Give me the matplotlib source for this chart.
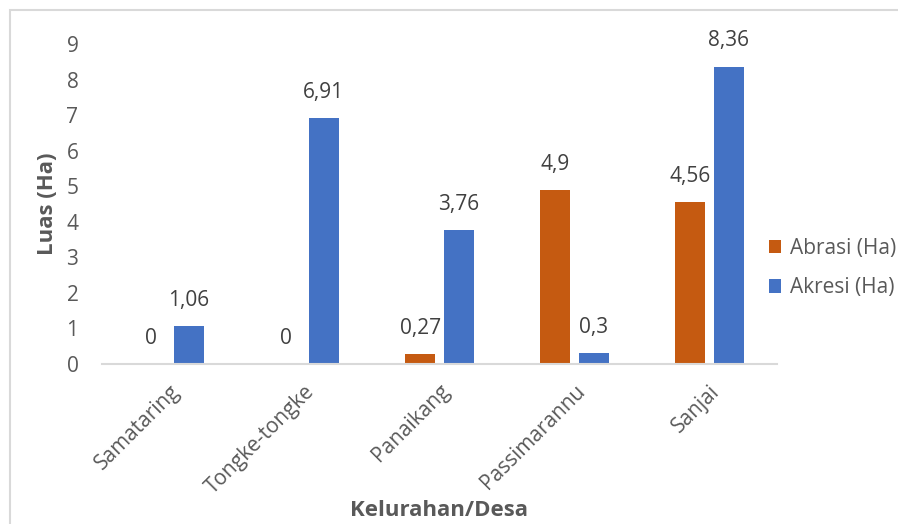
import matplotlib
matplotlib.use('Agg')
import matplotlib.pyplot as plt
from matplotlib.patches import Rectangle
import numpy as np

desa = ['Samataring', 'Tongke-tongke', 'Panaikang', 'Passimarannu', 'Sanjai']
abrasi = [0, 0, 0.27, 4.9, 4.56]
akresi = [1.06, 6.91, 3.76, 0.3, 8.36]
abrasi_lbl = ['0', '0', '0,27', '4,9', '4,56']
akresi_lbl = ['1,06', '6,91', '3,76', '0,3', '8,36']

plt.rcParams['font.family'] = ['Open Sans', 'DejaVu Sans']
grey = '#595959'

fig = plt.figure(figsize=(8.98, 5.24), dpi=100)
ax = fig.add_axes([102 / 898, 1 - 364 / 524, 675 / 898, 320 / 524])

x = np.arange(len(desa))
w = 0.222
off = 0.141
ax.bar(x - off, abrasi, w, color='#C55A11', label='Abrasi (Ha)')
ax.bar(x + off, akresi, w, color='#4472C4', label='Akresi (Ha)')

for i in range(len(desa)):
    ax.annotate(abrasi_lbl[i], (x[i] - off, abrasi[i]), xytext=(0, 11), textcoords='offset points',
                ha='center', va='bottom', fontsize=15, color='#404040')
    ax.annotate(akresi_lbl[i], (x[i] + off, akresi[i]), xytext=(0, 11), textcoords='offset points',
                ha='center', va='bottom', fontsize=15, color='#404040')

ax.set_xlim(-0.5, len(desa) - 0.5)
ax.set_ylim(0, 9)
ax.set_yticks(range(10))
ax.set_xticks(x)
ax.set_xticklabels(desa, rotation=45, ha='right', rotation_mode='anchor')
ax.tick_params(axis='both', length=0, labelsize=15, labelcolor=grey)
ax.tick_params(axis='y', pad=17)
ax.tick_params(axis='x', pad=12)
for s in ['top', 'right', 'left']:
    ax.spines[s].set_visible(False)
ax.spines['bottom'].set_color('#D9D9D9')
ax.spines['bottom'].set_linewidth(1.5)

ax.set_ylabel('Luas (Ha)', fontsize=16, fontweight='bold', color=grey, labelpad=6)
ax.set_xlabel('Kelurahan/Desa', fontsize=16, fontweight='bold', color=grey, labelpad=2)

ax.legend(loc='center left', bbox_to_anchor=(0.96, 0.30), frameon=False, fontsize=15,
          labelcolor=grey, handlelength=0.6, handleheight=0.6, handletextpad=0.4, labelspacing=0.9)

fig.patches.append(Rectangle((10 / 898, -0.1), 1.2, 1 - 10 / 524 + 0.1, transform=fig.transFigure,
                             fill=False, edgecolor='#D9D9D9', linewidth=1.5))

fig.savefig('out.png', dpi=100)
